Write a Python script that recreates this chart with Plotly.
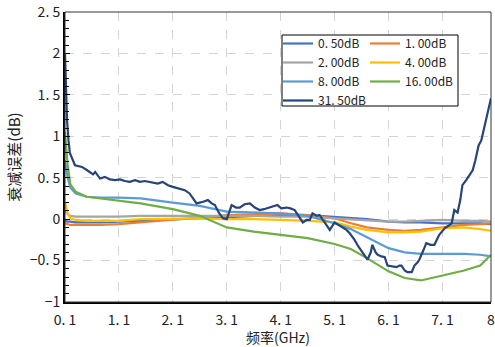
import plotly.graph_objects as go

# ---- data ----
freq = [0.1, 0.15, 0.2, 0.3, 0.5, 0.75, 1.1, 1.5, 2.1, 2.6, 3.1, 3.6, 4.1, 4.6,
        5.1, 5.4, 5.7, 6.1, 6.4, 6.7, 7.1, 7.5, 7.8, 8.0]

err_050 = [-0.02, -0.03, -0.03, -0.04, -0.04, -0.04, -0.03, -0.02, 0.00, 0.01, 0.02, 0.04,
           0.05, 0.05, 0.03, 0.01, 0.00, -0.03, -0.04, -0.04, -0.05, -0.05, -0.05, -0.06]
err_100 = [-0.05, -0.06, -0.07, -0.07, -0.07, -0.07, -0.06, -0.04, -0.01, 0.02, 0.05, 0.06,
           0.07, 0.05, 0.01, -0.05, -0.10, -0.13, -0.14, -0.13, -0.10, -0.07, -0.06, -0.05]
err_200 = [0.10, 0.06, 0.04, 0.03, 0.03, 0.03, 0.03, 0.04, 0.04, 0.04, 0.04, 0.04,
           0.03, 0.03, 0.01, 0.00, -0.01, -0.03, -0.03, -0.02, -0.01, -0.02, -0.02, -0.03]
err_400 = [0.20, 0.07, 0.01, -0.01, -0.02, -0.02, -0.02, 0.00, 0.01, 0.01, 0.00, 0.00,
           -0.01, -0.02, -0.04, -0.09, -0.13, -0.16, -0.16, -0.15, -0.11, -0.10, -0.12, -0.14]
err_800 = [0.71, 0.50, 0.38, 0.31, 0.27, 0.26, 0.26, 0.25, 0.20, 0.16, 0.09, 0.08,
           0.07, 0.04, -0.05, -0.12, -0.22, -0.35, -0.40, -0.42, -0.42, -0.42, -0.43, -0.45]
err_1600 = [1.05, 0.65, 0.42, 0.33, 0.27, 0.25, 0.23, 0.19, 0.12, 0.04, -0.10, -0.15,
            -0.19, -0.23, -0.30, -0.36, -0.47, -0.63, -0.71, -0.74, -0.68, -0.62, -0.56, -0.43]

freq_3150 = [0.1, 0.137, 0.165, 0.19, 0.285, 0.415, 0.51, 0.62, 0.66, 0.75, 0.84, 0.93,
             1.03, 1.12, 1.21, 1.30, 1.40, 1.49, 1.58, 1.67, 1.77, 1.82, 1.91, 2.01,
             2.10, 2.19, 2.32, 2.41, 2.49, 2.54, 2.66, 2.75, 2.82, 2.88, 2.95, 3.03,
             3.10, 3.16, 3.19, 3.27, 3.34, 3.43, 3.53, 3.62, 3.71, 3.79, 3.84, 3.93,
             4.04, 4.11, 4.21, 4.28, 4.36, 4.43, 4.51, 4.58, 4.64, 4.69, 4.77, 4.82,
             4.91, 5.01, 5.10, 5.17, 5.25, 5.32, 5.38, 5.47, 5.54, 5.62, 5.71, 5.77,
             5.80, 5.86, 5.90, 5.97, 6.03, 6.08, 6.17, 6.25, 6.30, 6.34, 6.40, 6.45,
             6.53, 6.58, 6.64, 6.67, 6.75, 6.80, 6.88, 6.95, 7.04, 7.14, 7.21, 7.27,
             7.32, 7.38, 7.43, 7.47, 7.54, 7.60, 7.66, 7.71, 7.77, 7.82, 7.88, 7.93, 8.0]
err_3150 = [2.00, 1.20, 0.95, 0.80, 0.65, 0.63, 0.59, 0.54, 0.57, 0.49, 0.51, 0.48,
            0.47, 0.48, 0.46, 0.45, 0.47, 0.45, 0.46, 0.45, 0.43, 0.43, 0.45, 0.41,
            0.39, 0.37, 0.35, 0.31, 0.23, 0.19, 0.21, 0.23, 0.19, 0.17, 0.08, 0.01,
            0.00, 0.13, 0.17, 0.14, 0.14, 0.18, 0.19, 0.14, 0.11, 0.12, 0.13, 0.14,
            0.17, 0.13, 0.14, 0.13, 0.11, 0.04, -0.04, -0.01, -0.01, 0.07, 0.04, 0.05,
            -0.04, -0.13, -0.04, -0.07, -0.10, -0.13, -0.17, -0.25, -0.33, -0.41, -0.49, -0.40,
            -0.31, -0.40, -0.43, -0.45, -0.46, -0.56, -0.57, -0.58, -0.56, -0.56, -0.62, -0.64,
            -0.64, -0.56, -0.52, -0.49, -0.37, -0.29, -0.31, -0.31, -0.19, -0.11, -0.08, -0.05,
            0.11, 0.08, 0.23, 0.41, 0.47, 0.53, 0.59, 0.71, 0.89, 0.95, 1.13, 1.29, 1.46]

series_names = ["0. 50dB", "1. 00dB", "2. 00dB", "4. 00dB", "8. 00dB", "16. 00dB", "31. 50dB"]
series_colors = ["#4472C4", "#ED7D31", "#A5A5A5", "#FFC000", "#5B9BD5", "#70AD47", "#264478"]
# legend column of each series (two-column legend as in the reference)
series_legend = ["legend", "legend2", "legend", "legend2", "legend", "legend2", "legend"]

x_tickvals = [0.1, 1.1, 2.1, 3.1, 4.1, 5.1, 6.1, 7.1, 8]
x_ticktext = ["0. 1", "1. 1", "2. 1", "3. 1", "4. 1", "5. 1", "6. 1", "7. 1", "8"]
y_tickvals = [-1, -0.5, 0, 0.5, 1, 1.5, 2, 2.5]
y_ticktext = ["\u22121", "\u22120. 5", "0", "0. 5", "1", "1. 5", "2", "2. 5"]
x_title = "频率(GHz)"
y_title = "衰减误差(dB)"

FONT = "Noto Sans CJK SC"

W, H = 495, 347
ML, MR, MT, MB = 65, 4, 12, 45
PW, PH = W - ML - MR, H - MT - MB


def px_x(p):
    return (p - ML) / PW


def px_y(p):
    return (H - MB - p) / PH


fig = go.Figure()
xs = [freq, freq, freq, freq, freq, freq, freq_3150]
ys = [err_050, err_100, err_200, err_400, err_800, err_1600, err_3150]
for name, color, lg, x, y in zip(series_names, series_colors, series_legend, xs, ys):
    fig.add_trace(go.Scatter(x=x, y=y, mode="lines", name=name, legend=lg,
                             line=dict(color=color, width=2.2)))

legend_common = dict(xanchor="left", yanchor="top", orientation="v",
                     bgcolor="rgba(0,0,0,0)", borderwidth=0,
                     font=dict(family=FONT, size=12, color="#222"),
                     tracegroupgap=0, itemwidth=30)

fig.update_layout(
    width=W, height=H,
    margin=dict(l=ML, r=MR, t=MT, b=MB, autoexpand=False),
    paper_bgcolor="white", plot_bgcolor="white",
    font=dict(family=FONT, size=14, color="#222"),
    showlegend=True,
    legend=dict(x=px_x(278), y=px_y(29), **legend_common),
    legend2=dict(x=px_x(365), y=px_y(29), **legend_common),
)

fig.update_xaxes(range=[0.1, 8], tickmode="array", tickvals=x_tickvals, ticktext=x_ticktext,
                 showgrid=True, gridcolor="#d4d4d4", griddash="dash", gridwidth=1,
                 showline=True, linecolor="black", linewidth=2, ticks="",
                 zeroline=False, tickfont=dict(size=14), automargin=False,
                 ticklabelstandoff=4, ticklabeloverflow="allow")
fig.update_yaxes(range=[-1, 2.5], tickmode="array", tickvals=y_tickvals, ticktext=y_ticktext,
                 showgrid=True, gridcolor="#d4d4d4", griddash="dash", gridwidth=1,
                 showline=True, linecolor="black", linewidth=2,
                 ticks="inside", ticklen=5, tickcolor="black",
                 minor=dict(tickmode="linear", tick0=0, dtick=0.1, ticks="inside", ticklen=4,
                            tickcolor="black", showgrid=False),
                 zeroline=False, tickfont=dict(size=14), automargin=False,
                 ticklabeloverflow="allow",
                 title=dict(text=y_title, font=dict(size=15), standoff=6))

# x-axis title placed close under the tick labels, as in the reference
fig.add_annotation(text=x_title, xref="paper", yref="paper", x=0.5, y=px_y(337),
                   xanchor="center", yanchor="middle", showarrow=False,
                   font=dict(family=FONT, size=14, color="#222"))

# frame on top and right
fig.add_shape(type="rect", xref="paper", yref="paper", x0=0, y0=0, x1=1, y1=1,
              line=dict(color="#333", width=1), layer="above")
# legend box
fig.add_shape(type="rect", xref="paper", yref="paper",
              x0=px_x(282), x1=px_x(458), y0=px_y(106), y1=px_y(35),
              line=dict(color="black", width=1), fillcolor="white", layer="above")

fig.write_html("out.html", config={"displayModeBar": False},
               post_script="document.body.style.margin='0';")
